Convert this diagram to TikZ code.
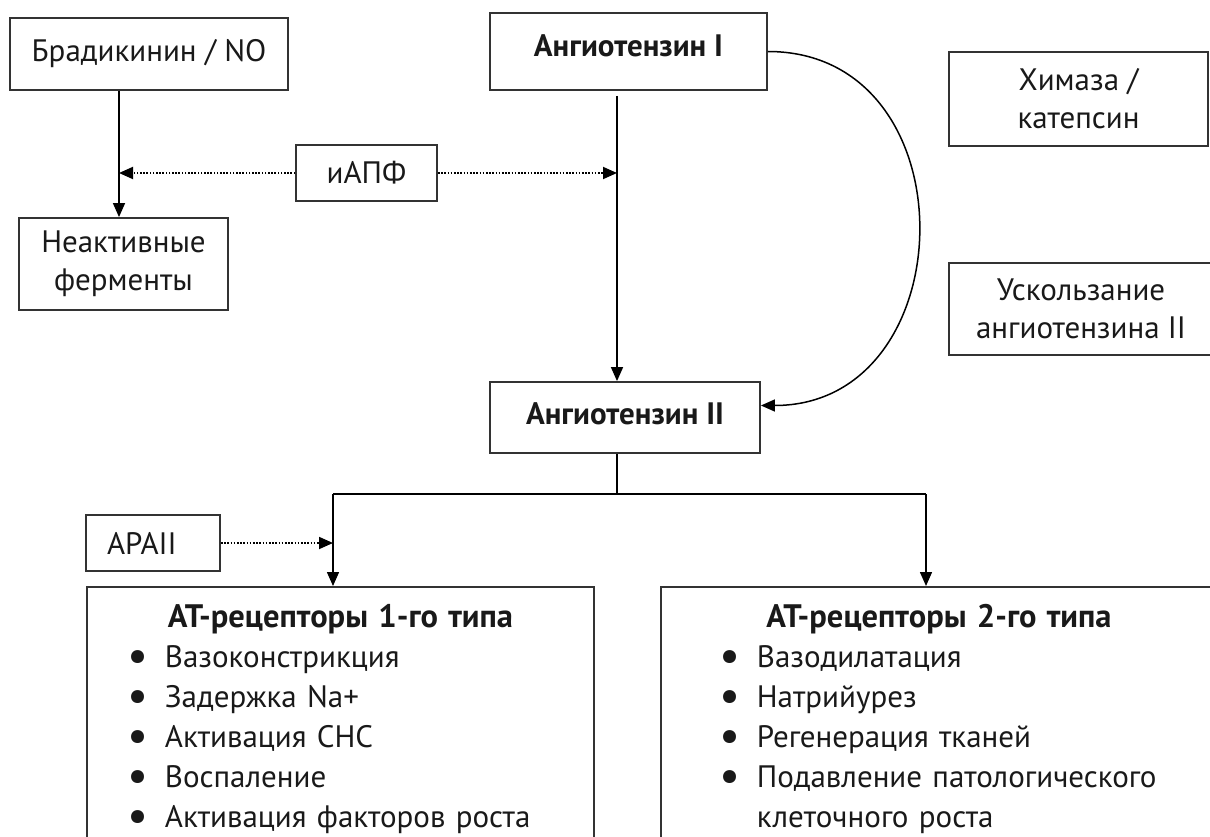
\documentclass[tikz,border=0pt]{standalone}
\usepackage{fontspec}
\setmainfont{PT Sans}
\usetikzlibrary{arrows.meta}

\newlength{\atindent}
\newlength{\atgap}
\setlength{\atgap}{37pt}
\newcommand{\atitem}[1]{\hspace*{\atindent}\makebox[\atgap][l]{\raisebox{-0.12em}{\scalebox{1.5}{\textbullet}}}#1\par}

\begin{document}
\gdef\braddesc{Брадикинин / NO}
\gdef\inactdesc{Неактивные\\ферменты}
\gdef\acedesc{иАПФ}
\gdef\AIdesc{\textbf{Ангиотензин I}}
\gdef\AIIdesc{\textbf{Ангиотензин II}}
\gdef\chymdesc{Химаза /\\катепсин}
\gdef\escdesc{Ускользание\\ангиотензина II}
\gdef\apadesc{АРАII}

\begin{tikzpicture}[->, >={Triangle[length=14pt,width=12pt]}, line width=1.5pt, x=1pt, y=-1pt,
  box/.style={draw=black!80, line width=1.8pt, align=center, inner sep=0pt,
    font=\fontsize{31}{38}\selectfont, text=black!90},
  inhib/.style={dash pattern=on 1.6pt off 1.6pt, line width=1.8pt}]

\useasboundingbox (0,0) rectangle (1210,837);

\node[box, minimum width=278pt, minimum height=72pt] (brad) at (149,54) {\braddesc};
\node[box, minimum width=209pt, minimum height=92pt] (inact) at (123.5,264) {\inactdesc};
\node[box, minimum width=141pt, minimum height=56pt] (ace) at (366.5,173) {\acedesc};
\node[box, minimum width=277pt, minimum height=77pt, text depth=12pt] (AI) at (628.5,51.5) {\AIdesc};
\node[box, minimum width=270pt, minimum height=71pt, text depth=8pt] (AII) at (625,417.5) {\AIIdesc};
\node[box, minimum width=259pt, minimum height=94pt] (chym) at (1078.5,99) {\chymdesc};
\node[box, minimum width=264pt, minimum height=92pt] (esc) at (1081,309) {\escdesc};
\node[box, minimum height=56pt, text width=92pt, align=left, inner xsep=21pt] (apa) at (153,543) {\apadesc};

\node[box, anchor=north west, text width=507pt, align=left, text height=41pt, text depth=280pt,
  font=\fontsize{31}{40}\selectfont] (at1) at (86,586) {%
  {\centering\fontsize{32.5}{40}\selectfont\textbf{АТ-рецепторы 1-го типа}\par}
  \setlength{\atindent}{41pt}%
  \atitem{Вазоконстрикция}
  \atitem{Задержка Na+}
  \atitem{Активация СНС}
  \atitem{Воспаление}
  \atitem{Активация факторов роста}};
\node[box, anchor=north west, text width=556pt, align=left, text height=41pt, text depth=280pt,
  font=\fontsize{31}{40}\selectfont] (at2) at (660,586) {%
  {\centering\fontsize{32.5}{40}\selectfont\textbf{АТ-рецепторы 2-го типа}\par}
  \setlength{\atindent}{59pt}%
  \atitem{Вазодилатация}
  \atitem{Натрийурез}
  \atitem{Регенерация тканей}
  \atitem{Подавление патологического}
  \hspace*{\atindent}\hspace*{\atgap}клеточного роста\par};

\coordinate (bline) at (119,0);
\coordinate (axis) at (617,0);
\coordinate (split) at (617,494);
\coordinate (lbr) at (333,494);
\coordinate (rbr) at (926,494);

\path (brad.south -| bline) edge (inact.north -| bline)
  (AI.south -| axis) edge[shorten <=5pt] (AII.north -| axis)
  (lbr) edge (lbr |- at1.north)
  (rbr) edge (rbr |- at2.north);

\draw (AI.east) .. controls +(205,0) and +(205,0) .. ([yshift=12pt]AII.east);

\draw[-, line width=1.2pt] (AII.south -| split) -- (split);
\draw[-, line width=1.2pt] (lbr) -- (rbr);

\path[inhib] (ace.west) edge (ace.west -| bline)
  (ace.east) edge (ace.east -| axis)
  (apa.east) edge (apa.east -| lbr);

\end{tikzpicture}
\end{document}
